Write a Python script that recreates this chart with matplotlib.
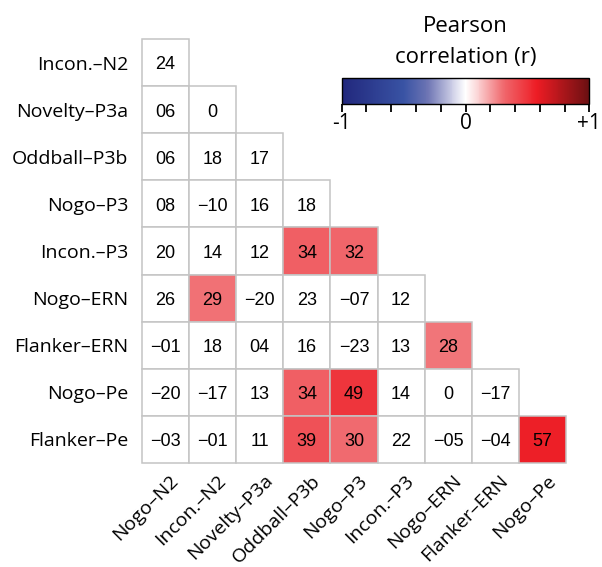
import numpy as np
import matplotlib
matplotlib.use('Agg')
import matplotlib.pyplot as plt
import matplotlib.transforms as mtransforms
from matplotlib.colors import LinearSegmentedColormap, Normalize
from matplotlib.cm import ScalarMappable
from matplotlib.patches import Rectangle

# row / column names of the lower triangle
rows = ['Incon.–N2', 'Novelty–P3a', 'Oddball–P3b', 'Nogo–P3', 'Incon.–P3',
        'Nogo–ERN', 'Flanker–ERN', 'Nogo–Pe', 'Flanker–Pe']
cols = ['Nogo–N2', 'Incon.–N2', 'Novelty–P3a', 'Oddball–P3b', 'Nogo–P3',
        'Incon.–P3', 'Nogo–ERN', 'Flanker–ERN', 'Nogo–Pe']

# correlations x100, one list per row
r_values = [
    [24],
    [6, 0],
    [6, 18, 17],
    [8, -10, 16, 18],
    [20, 14, 12, 34, 32],
    [26, 29, -20, 23, -7, 12],
    [-1, 18, 4, 16, -23, 13, 28],
    [-20, -17, 13, 34, 49, 14, 0, -17],
    [-3, -1, 11, 39, 30, 22, -5, -4, 57],
]
# 1 = significant (coloured cell)
significant = [
    [0],
    [0, 0],
    [0, 0, 0],
    [0, 0, 0, 0],
    [0, 0, 0, 1, 1],
    [0, 1, 0, 0, 0, 0],
    [0, 0, 0, 0, 0, 0, 1],
    [0, 0, 0, 1, 1, 0, 0, 0],
    [0, 0, 0, 1, 1, 0, 0, 0, 1],
]

n = len(rows)

cmap = LinearSegmentedColormap.from_list('rwb', [
    (0.0, '#21277c'), (0.25, '#3953a4'), (0.35, '#6f76b4'), (0.45, '#d0d1e8'),
    (0.5, '#ffffff'), (0.55, '#fbd3d4'), (0.65, '#f06b70'), (0.79, '#ed1c24'),
    (1.0, '#6b1012')], N=257)
norm = Normalize(-1, 1)

label_font = 'Open Sans'
num_font = 'Liberation Sans'

fig = plt.figure(figsize=(6.02, 5.67), dpi=100)
ax = fig.add_axes([142 / 602, 1 - 463 / 567, 424 / 602, 424 / 567])

for i, row in enumerate(r_values):
    for j, k in enumerate(row):
        v = k / 100
        face = cmap(norm(v)) if significant[i][j] else 'white'
        ax.add_patch(Rectangle((j, i), 1, 1, facecolor=face,
                               edgecolor='#c4c4c4', linewidth=1.1,
                               clip_on=False))
        if k == 0:
            s = '0'
        else:
            s = ('−' if k < 0 else '') + f'{abs(k):02d}'
        ax.text(j + 0.5, i + 0.55, s, ha='center', va='center',
                fontsize=13, family=num_font, color='black')

ax.set_xlim(0, n)
ax.set_ylim(n, 0)
for sp in ax.spines.values():
    sp.set_visible(False)
ax.set_yticks(np.arange(n) + 0.5)
ax.set_yticklabels(rows, fontsize=14, family=label_font)
ax.set_xticks(np.arange(n) + 0.5)
ax.set_xticklabels(cols, fontsize=14, family=label_font, rotation=45,
                   ha='right', rotation_mode='anchor')
ax.tick_params(length=0)
ax.tick_params(axis='y', pad=10)
ax.tick_params(axis='x', pad=6)
shift = mtransforms.ScaledTranslation(4 / 100, 0, fig.dpi_scale_trans)
for lab in ax.get_xticklabels():
    lab.set_transform(lab.get_transform() + shift)

# colour bar
cax = fig.add_axes([341.7 / 602, 1 - 104.3 / 567, 247.6 / 602, 26.6 / 567])
cb = fig.colorbar(ScalarMappable(norm=norm, cmap=cmap), cax=cax,
                  orientation='horizontal', ticks=[-1, 0, 1])
cb.ax.set_xticklabels(['-1', '0', '+1'], fontsize=15, family=label_font)
cb.ax.set_xticks(np.linspace(-1, 1, 11), minor=True)
cb.ax.tick_params(which='both', length=6, width=1.3, direction='out', pad=0)
cb.outline.set_linewidth(1.0)

fig.text(465.5 / 602, 1 - 32 / 567, 'Pearson', ha='center', va='baseline',
         fontsize=16, family=label_font)
fig.text(465.5 / 602, 1 - 63 / 567, 'correlation (r)', ha='center',
         va='baseline', fontsize=16, family=label_font)

fig.savefig('out.png', dpi=100)
